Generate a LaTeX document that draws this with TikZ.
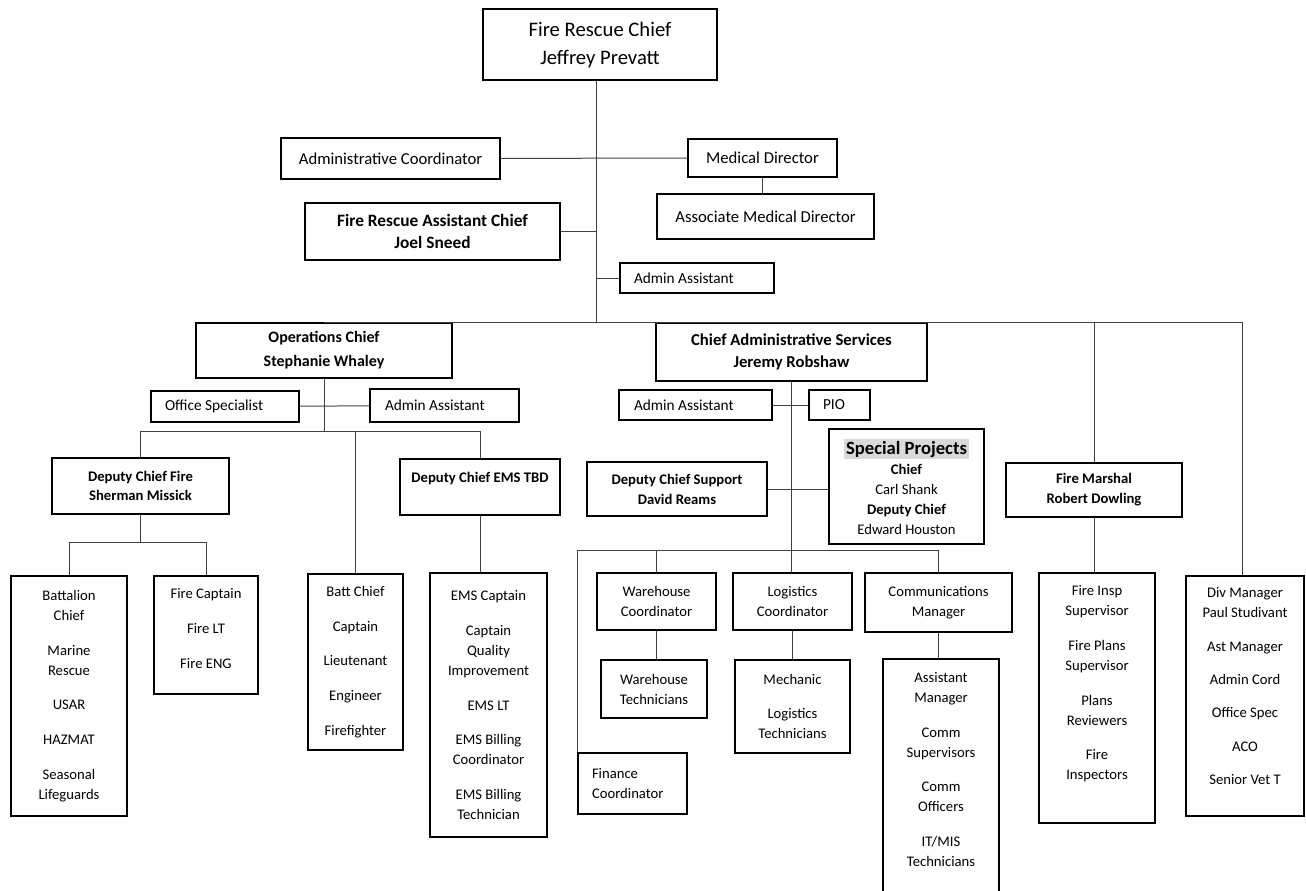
\documentclass[tikz,border=0pt]{standalone}
\usepackage{fontspec}
\setmainfont{Carlito}
\definecolor{spgray}{RGB}{217,217,217}

\begin{document}
\begin{tikzpicture}[x=0.75pt,y=-0.75pt,
  box/.style={draw,line width=1.1pt,inner sep=0pt,align=center,font=\fontsize{11}{15}\selectfont},
  wh/.style 2 args={minimum width={#1*0.75pt},minimum height={#2*0.75pt}},
  small/.style={font=\fontsize{11.5}{14}\selectfont,align=flush left},
  link/.style={draw=black!75,line width=0.75pt}]
\useasboundingbox (0,0) rectangle (1306,890);
% guide lines
\coordinate (spine) at (596,0);
\coordinate (divline) at (1242,0);
\coordinate (opsbar) at (0,431);
\coordinate (dcfbar) at (0,542);
\coordinate (supbar) at (0,550);
% top
\node[box,wh={234}{71},font=\fontsize{15.5}{21}\selectfont] (chief) at (600,44.5) {Fire Rescue Chief\\Jeffrey Prevatt};
\node[box,wh={219}{41},font=\fontsize{12.5}{15}\selectfont] (admcoord) at (390.5,158.5) {Administrative Coordinator};
\node[box,wh={149}{38},font=\fontsize{12.5}{15}\selectfont] (meddir) at (762.5,158) {Medical Director};
\node[box,wh={217}{45},font=\fontsize{12.5}{15}\selectfont] (assocmed) at (765.5,216.5) {Associate Medical Director};
\node[box,wh={255}{57},font=\fontsize{13}{16.5}\selectfont\bfseries] (asstchief) at (432.5,231.5) {Fire Rescue Assistant Chief\\Joel Sneed};
\node[box,small,wh={154}{30},inner xsep=10.5pt,text width=94.5pt] (chiefadmin) at (697,278) {Admin Assistant};
% operations
\node[box,wh={256}{55},font=\fontsize{12}{18}\selectfont\bfseries] (ops) at (324,350.5) {Operations Chief\\Stephanie Whaley};
\node[box,small,wh={148}{31},inner xsep=10.5pt,text width=90pt] (officespec) at (225,406.5) {Office Specialist};
\node[box,small,wh={149}{33},inner xsep=11.25pt,text width=89.25pt] (opsadmin) at (444.5,405.5) {Admin Assistant};
\node[box,wh={177}{56},font=\fontsize{11}{14.5}\selectfont\bfseries] (dcfire) at (140.5,486) {Deputy Chief Fire\\Sherman Missick};
\node[box,wh={160}{56},font=\fontsize{11}{15}\selectfont\bfseries] (dcems) at (480,487) {Deputy Chief EMS TBD\\\mbox{}};
\node[box,wh={116}{240}] (battalion) at (69,696) {Battalion\\Chief\\[11pt]Marine\\Rescue\\[11pt]USAR\\[11pt]HAZMAT\\[11pt]Seasonal\\Lifeguards};
\node[box,wh={104}{118}] (firecapt) at (206,635) {Fire Captain\\[11pt]Fire LT\\[11pt]Fire ENG\\[-5pt]\mbox{}};
\node[box,wh={95}{176}] (battchief) at (355.5,662) {Batt Chief\\[11pt]Captain\\[11pt]Lieutenant\\[11pt]Engineer\\[11pt]Firefighter};
\node[box,wh={117}{264}] (emsstaff) at (488.5,705) {EMS Captain\\[11pt]Captain\\Quality\\Improvement\\[11pt]EMS LT\\[11pt]EMS Billing\\Coordinator\\[11pt]EMS Billing\\Technician};
% administrative services
\node[box,wh={271}{58},font=\fontsize{12.5}{16}\selectfont\bfseries] (cas) at (791.5,352) {Chief Administrative Services\\Jeremy Robshaw};
\node[box,small,wh={153}{30},inner xsep=11.25pt,text width=92.25pt] (casadmin) at (695.5,405) {Admin Assistant};
\node[box,small,wh={61}{30},inner xsep=10.5pt,text width=24.75pt] (pio) at (839.5,405) {PIO};
\node[box,wh={155}{115}] (special) at (906.5,486.5) {{\setlength{\fboxsep}{1.5pt}\colorbox{spgray}{\fontsize{14}{17}\selectfont\bfseries Special Projects}}\\\textbf{Chief}\\Carl Shank\\\textbf{Deputy Chief}\\Edward Houston};
\node[box,wh={180}{54},font=\fontsize{11}{15}\selectfont\bfseries] (dcsupport) at (677,489) {Deputy Chief Support\\David Reams};
\node[box,wh={119}{57}] (whcoord) at (656.5,601.5) {Warehouse\\Coordinator};
\node[box,wh={106}{58}] (whtech) at (654,689) {Warehouse\\Technicians};
\node[box,wh={119}{57}] (logcoord) at (792.5,601.5) {Logistics\\Coordinator};
\node[box,wh={115}{93}] (mechanic) at (792.5,706.5) {Mechanic\\[11pt]Logistics\\Technicians};
\node[box,wh={147}{59}] (commmgr) at (938.5,602.5) {Communications\\Manager};
\node[box,wh={116}{241}] (asstmgr) at (941,779.5) {Assistant\\Manager\\[11pt]Comm\\Supervisors\\[11pt]Comm\\Officers\\[11pt]IT/MIS\\Technicians\\\mbox{}};
\node[box,align=flush left,wh={109}{61},inner xsep=10.5pt,text width=60.75pt] (finance) at (632.5,783.5) {Finance\\Coordinator};
% fire marshal and right side
\node[box,wh={176}{54},font=\fontsize{11}{15}\selectfont\bfseries] (firemarshal) at (1094,490) {Fire Marshal\\Robert Dowling};
\node[box,wh={116}{250}] (fireinsp) at (1097,698) {Fire Insp\\Supervisor\\[11pt]Fire Plans\\Supervisor\\[11pt]Plans\\Reviewers\\[11pt]Fire\\Inspectors\\[8pt]\mbox{}};
\node[box,wh={118}{240}] (divmgr) at (1245,696) {Div Manager\\Paul Studivant\\[10pt]Ast Manager\\[10pt]Admin Cord\\[10pt]Office Spec\\[10pt]ACO\\[10pt]Senior Vet T\\\mbox{}};
% connectors, top
\draw[link] (chief.south -| spine) -- (spine |- ops.north);
\draw[link] (admcoord) -- (meddir);
\draw[link] (meddir) -- (meddir |- assocmed.north);
\draw[link] (asstchief) -- (asstchief -| spine);
\draw[link] (chiefadmin) -- (chiefadmin -| spine);
\draw[link] (ops.north) -- (ops.north -| divline) -- (divline |- divmgr.north);
\draw[link] (firemarshal.north |- ops.north) -- (firemarshal);
% connectors, operations
\draw[link] (ops) -- (ops |- opsbar);
\draw[link] (officespec) -- (opsadmin);
\draw[link] (dcfire.north |- opsbar) -- (dcems.north |- opsbar);
\draw[link] (dcfire.north |- opsbar) -- (dcfire);
\draw[link] (battchief.north |- opsbar) -- (battchief);
\draw[link] (dcems.north |- opsbar) -- (dcems);
\draw[link] (dcems) -- (dcems |- emsstaff.north);
\draw[link] (dcfire) -- (dcfire |- dcfbar);
\draw[link] (battalion.north |- dcfbar) -- (firecapt.north |- dcfbar);
\draw[link] (battalion.north |- dcfbar) -- (battalion);
\draw[link] (firecapt.north |- dcfbar) -- (firecapt);
% connectors, administrative services
\draw[link] (cas) -- (cas |- logcoord.north);
\draw[link] (casadmin) -- (pio);
\draw[link] (dcsupport.east) -- (dcsupport.east -| special.west);
\draw[link] (finance.north west |- supbar) -- (commmgr.north |- supbar);
\draw[link] (finance.north west |- supbar) -- (finance.north west);
\draw[link] (whcoord.north |- supbar) -- (whcoord);
\draw[link] (commmgr.north |- supbar) -- (commmgr);
\draw[link] (whcoord) -- (whcoord |- whtech.north);
\draw[link] (logcoord) -- (mechanic);
\draw[link] (commmgr) -- (commmgr |- asstmgr.north);
\draw[link] (firemarshal) -- (firemarshal |- fireinsp.north);
\end{tikzpicture}
\end{document}
